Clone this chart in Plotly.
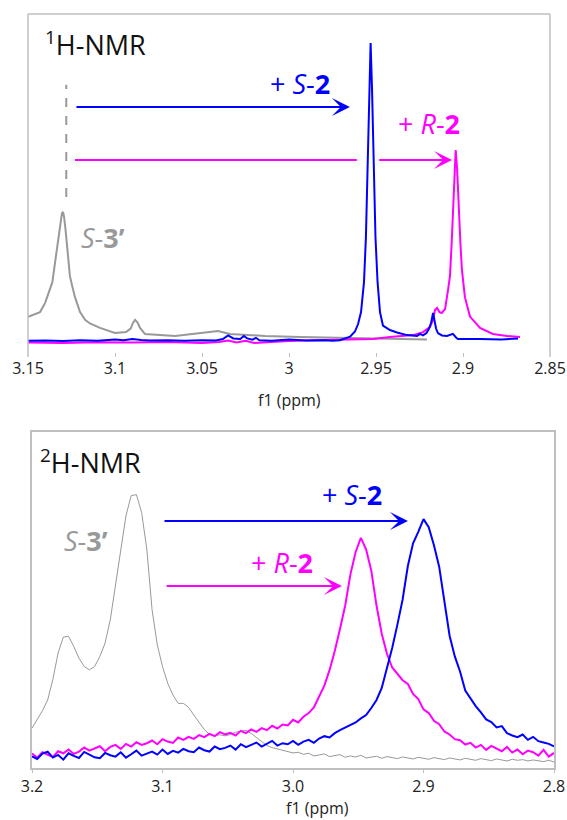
import plotly.graph_objects as go

W, H = 567, 820
FONT = "Open Sans"
BLUE = "#0000FF"
MAGENTA = "#FF00FF"
GRAY = "#999999"
BORDER = "#BFBFBF"

# ---------------- 1H-NMR (top panel) ----------------
top_ticks = [3.15, 3.1, 3.05, 3.0, 2.95, 2.9, 2.85]
top_ticktext = ["3.15", "3.1", "3.05", "3", "2.95", "2.9", "2.85"]

h_s3_ppm = [3.1500, 3.1431, 3.1402, 3.1374, 3.1360, 3.1345, 3.1333, 3.1322, 3.1313, 3.1305,
            3.1299, 3.1293, 3.1285, 3.1276, 3.1267, 3.1259, 3.1247, 3.1230, 3.1201, 3.1172,
            3.1144, 3.1086, 3.1000, 3.0937, 3.0910, 3.0897, 3.0885, 3.0870, 3.0856, 3.0828,
            3.0655, 3.0511, 3.0408, 3.0339, 3.0138, 2.9937, 2.9700, 2.9477, 2.9207]
h_s3_int = [0.084, 0.100, 0.130, 0.174, 0.200, 0.264, 0.310, 0.365, 0.400, 0.430,
            0.435, 0.420, 0.380, 0.320, 0.270, 0.220, 0.190, 0.150, 0.100, 0.074,
            0.062, 0.047, 0.030, 0.033, 0.045, 0.064, 0.074, 0.065, 0.047, 0.027,
            0.020, 0.030, 0.037, 0.027, 0.020, 0.017, 0.014, 0.010, 0.008]

h_s2_ppm = [3.1500, 3.1400, 3.1300, 3.1200, 3.1100, 3.1000, 3.0950, 3.0900, 3.0850, 3.0800,
            3.0700, 3.0600, 3.0500, 3.0420, 3.0380, 3.0350, 3.0320, 3.0280, 3.0260, 3.0240,
            3.0210, 3.0190, 3.0170, 3.0100, 3.0000, 2.9900, 2.9800, 2.9750, 2.9707, 2.9670,
            2.9649, 2.9621, 2.9603, 2.9586, 2.9569, 2.9558, 2.9546, 2.9537, 2.9531, 2.9523,
            2.9514, 2.9503, 2.9491, 2.9477, 2.9460, 2.9420, 2.9379, 2.9322, 2.9264, 2.9247,
            2.9230, 2.9210, 2.9195, 2.9183, 2.9172, 2.9163, 2.9155, 2.9144, 2.9121, 2.9092,
            2.9070, 2.9058, 2.9040, 2.9029, 2.8902, 2.8780, 2.8684]
h_s2_int = [0.004, 0.005, 0.003, 0.006, 0.004, 0.008, 0.006, 0.010, 0.007, 0.005,
            0.006, 0.004, 0.006, 0.005, 0.010, 0.022, 0.012, 0.010, 0.020, 0.012,
            0.008, 0.014, 0.006, 0.004, 0.008, 0.005, 0.006, 0.004, 0.006, 0.012,
            0.018, 0.035, 0.060, 0.100, 0.200, 0.350, 0.600, 0.850, 1.000, 0.850,
            0.600, 0.350, 0.200, 0.100, 0.055, 0.040, 0.032, 0.023, 0.020, 0.027,
            0.022, 0.030, 0.045, 0.065, 0.097, 0.070, 0.045, 0.030, 0.022, 0.020,
            0.024, 0.027, 0.015, 0.010, 0.010, 0.008, 0.012]

h_r2_ppm = [3.1500, 3.1300, 3.1100, 3.0900, 3.0700, 3.0500, 3.0400, 3.0350, 3.0300, 3.0250,
            3.0200, 3.0100, 3.0000, 2.9805, 2.9517, 2.9420, 2.9287, 2.9230, 2.9190, 2.9172,
            2.9161, 2.9149, 2.9135, 2.9122, 2.9103, 2.9086, 2.9075, 2.9066, 2.9057, 2.9049,
            2.9042, 2.9034, 2.9026, 2.9014, 2.9006, 2.8989, 2.8960, 2.8902, 2.8828, 2.8747,
            2.8672]
h_r2_int = [-0.002, -0.003, -0.001, -0.002, 0.000, -0.003, 0.000, 0.005, -0.002, 0.004,
            -0.003, 0.001, 0.003, 0.007, 0.010, 0.017, 0.023, 0.033, 0.050, 0.074,
            0.107, 0.114, 0.100, 0.097, 0.110, 0.174, 0.220, 0.320, 0.450, 0.580,
            0.642, 0.580, 0.450, 0.320, 0.240, 0.150, 0.085, 0.047, 0.027, 0.020,
            0.017]

# ---------------- 2H-NMR (bottom panel) ----------------
bot_ticks = [3.2, 3.1, 3.0, 2.9, 2.8]
bot_ticktext = ["3.2", "3.1", "3.0", "2.9", "2.8"]
d_start_ppm = 3.2
d_step_ppm = -0.004

d_s3_int = [0.116, 0.140, 0.168, 0.200, 0.262, 0.340, 0.388, 0.390, 0.360, 0.325,
            0.300, 0.290, 0.300, 0.330, 0.370, 0.440, 0.540, 0.650, 0.750, 0.810,
            0.813, 0.760, 0.650, 0.470, 0.365, 0.300, 0.250, 0.215, 0.190, 0.190,
            0.178, 0.155, 0.133, 0.112, 0.097, 0.094, 0.096, 0.093, 0.097, 0.104,
            0.106, 0.110, 0.100, 0.088, 0.075, 0.064, 0.058, 0.054, 0.050, 0.046,
            0.042,
            0.044, 0.038, 0.041, 0.033, 0.036, 0.039, 0.031, 0.035, 0.037, 0.029,
            0.033, 0.030, 0.035, 0.027, 0.029, 0.032, 0.026, 0.031, 0.028, 0.025,
            0.030, 0.027, 0.024, 0.029, 0.026, 0.023, 0.028, 0.025, 0.022, 0.027,
            0.024, 0.021, 0.026, 0.023, 0.020, 0.025, 0.022, 0.019, 0.024, 0.021,
            0.018, 0.023, 0.020, 0.022, 0.018, 0.021, 0.019, 0.016, 0.020, 0.015]

d_r2_int = [0.040, 0.028, 0.044, 0.036, 0.030, 0.047, 0.041, 0.052, 0.039, 0.046,
            0.058, 0.049, 0.055, 0.062, 0.047, 0.060, 0.066, 0.054, 0.069, 0.061,
            0.074, 0.066, 0.071, 0.079, 0.068, 0.083, 0.076, 0.072, 0.088, 0.081,
            0.090, 0.084, 0.095, 0.089, 0.099, 0.092, 0.104, 0.097, 0.102, 0.094,
            0.108, 0.101, 0.112, 0.105, 0.116, 0.110, 0.123, 0.115, 0.127, 0.124,
            0.141, 0.133, 0.150, 0.161, 0.178, 0.212, 0.243, 0.289, 0.346, 0.412,
            0.482, 0.575, 0.642, 0.684, 0.650, 0.586, 0.482, 0.398, 0.338, 0.297,
            0.278, 0.259, 0.248, 0.218, 0.203, 0.172, 0.161, 0.138, 0.128, 0.106,
            0.097, 0.083, 0.080, 0.067, 0.072, 0.058, 0.066, 0.051, 0.063, 0.055,
            0.047, 0.060, 0.043, 0.052, 0.038, 0.049, 0.044, 0.034, 0.051, 0.031,
            0.042]

d_s2_int = [0.032, 0.024, 0.040, 0.046, 0.028, 0.036, 0.022, 0.041, 0.033, 0.027,
            0.045, 0.038, 0.029, 0.026, 0.042, 0.035, 0.031, 0.044, 0.028, 0.038,
            0.049, 0.034, 0.041, 0.046, 0.037, 0.052, 0.039, 0.048, 0.043, 0.054,
            0.047, 0.044, 0.058, 0.050, 0.046, 0.061, 0.053, 0.057, 0.064, 0.052,
            0.068, 0.059, 0.066, 0.073, 0.061, 0.070, 0.078, 0.064, 0.071, 0.068,
            0.078, 0.066, 0.076, 0.081, 0.072, 0.085, 0.092, 0.088, 0.101, 0.110,
            0.117, 0.126, 0.133, 0.145, 0.155, 0.176, 0.200, 0.236, 0.292, 0.355,
            0.425, 0.500, 0.600, 0.668, 0.702, 0.740, 0.716, 0.662, 0.598, 0.495,
            0.392, 0.330, 0.285, 0.228, 0.203, 0.182, 0.163, 0.142, 0.134, 0.118,
            0.122, 0.101, 0.094, 0.089, 0.097, 0.081, 0.090, 0.077, 0.073, 0.069,
            0.062]

# ---------------- annotation anchors (data units) ----------------
top_s2_arrow = dict(x0=3.123, x1=2.965, y=0.786)
top_r2_line = dict(x0=3.123, x1=2.961, y=0.609)
top_r2_arrow = dict(x0=2.949, x1=2.9063, y=0.609)
top_dash = dict(x=3.128, y0=0.485, y1=0.86)
bot_s2_arrow = dict(x0=3.0996, x1=2.9119, y=0.734)
bot_r2_arrow = dict(x0=3.098, x1=2.9625, y=0.540)

fig = go.Figure()

fig.add_trace(go.Scatter(x=h_s3_ppm, y=h_s3_int, mode="lines",
                         line=dict(color=GRAY, width=2), xaxis="x", yaxis="y"))
fig.add_trace(go.Scatter(x=h_r2_ppm, y=h_r2_int, mode="lines",
                         line=dict(color=MAGENTA, width=2), xaxis="x", yaxis="y"))
fig.add_trace(go.Scatter(x=h_s2_ppm, y=h_s2_int, mode="lines",
                         line=dict(color=BLUE, width=2), xaxis="x", yaxis="y"))

fig.add_trace(go.Scatter(x0=d_start_ppm, dx=d_step_ppm, y=d_s3_int, mode="lines",
                         line=dict(color=GRAY, width=1), xaxis="x2", yaxis="y2"))
fig.add_trace(go.Scatter(x0=d_start_ppm, dx=d_step_ppm, y=d_r2_int, mode="lines",
                         line=dict(color=MAGENTA, width=2), xaxis="x2", yaxis="y2"))
fig.add_trace(go.Scatter(x0=d_start_ppm, dx=d_step_ppm, y=d_s2_int, mode="lines",
                         line=dict(color=BLUE, width=2), xaxis="x2", yaxis="y2"))

shapes = []
# top panel frame (left, top, right)
for (a, b, c, d) in [(0, 0, 0, 1), (0, 1, 1, 1), (1, 0, 1, 1)]:
    shapes.append(dict(type="line", xref="x domain", yref="y domain",
                       x0=a, y0=b, x1=c, y1=d, line=dict(color=BORDER, width=1.5)))
shapes.append(dict(type="line", xref="x", yref="y",
                   x0=top_dash["x"], x1=top_dash["x"], y0=top_dash["y0"], y1=top_dash["y1"],
                   line=dict(color=GRAY, width=2, dash="dash")))
shapes.append(dict(type="line", xref="x", yref="y",
                   x0=top_r2_line["x0"], x1=top_r2_line["x1"],
                   y0=top_r2_line["y"], y1=top_r2_line["y"],
                   line=dict(color=MAGENTA, width=2)))

annotations = []


def arrow(xref, yref, spec, color):
    return dict(xref=xref, yref=yref, axref=xref, ayref=yref,
                x=spec["x1"], y=spec["y"], ax=spec["x0"], ay=spec["y"],
                text="", showarrow=True, arrowhead=3, arrowsize=1.5,
                arrowwidth=2, arrowcolor=color, standoff=0)


def label(xref, yref, x, y, text, color, size=27):
    return dict(xref=xref, yref=yref, x=x, y=y, text=text, showarrow=False,
                font=dict(family=FONT, size=size, color=color),
                xanchor="center", yanchor="middle")


annotations.append(arrow("x", "y", top_s2_arrow, BLUE))
annotations.append(arrow("x", "y", top_r2_arrow, MAGENTA))
annotations.append(arrow("x2", "y2", bot_s2_arrow, BLUE))
annotations.append(arrow("x2", "y2", bot_r2_arrow, MAGENTA))

annotations.append(label("x", "y", 2.9937, 0.863, "+ <i>S</i>-<b>2</b>", BLUE))
annotations.append(label("x", "y", 2.9195, 0.732, "+ <i>R</i>-<b>2</b>", MAGENTA))
annotations.append(label("x", "y", 3.1069, 0.351, "<i>S</i>-<b>3’</b>", GRAY))
annotations.append(label("x2", "y2", 2.955, 0.812, "+ <i>S</i>-<b>2</b>", BLUE))
annotations.append(label("x2", "y2", 3.0084, 0.609, "+ <i>R</i>-<b>2</b>", MAGENTA))
annotations.append(label("x2", "y2", 3.159, 0.675, "<i>S</i>-<b>3’</b>", GRAY))

annotations.append(dict(xref="paper", yref="paper", x=43 / W, y=1 - 43 / H,
                        text="<sup>1</sup>H-NMR", showarrow=False, xanchor="left",
                        yanchor="middle", font=dict(family=FONT, size=27, color="#111111")))
annotations.append(dict(xref="paper", yref="paper", x=38 / W, y=1 - 462 / H,
                        text="<sup>2</sup>H-NMR", showarrow=False, xanchor="left",
                        yanchor="middle", font=dict(family=FONT, size=27, color="#111111")))
annotations.append(dict(xref="paper", yref="paper", x=289 / W, y=1 - 400 / H,
                        text="f1 (ppm)", showarrow=False, xanchor="center",
                        yanchor="middle", font=dict(family=FONT, size=16, color="#222222")))
annotations.append(dict(xref="paper", yref="paper", x=317 / W, y=0,
                        text="f1 (ppm)", showarrow=False, xanchor="center",
                        yanchor="bottom", borderpad=0,
                        font=dict(family=FONT, size=16, color="#222222")))

tickfont = dict(family=FONT, size=16, color="#222222")

fig.update_layout(
    width=W, height=H, autosize=False,
    margin=dict(l=0, r=0, t=0, b=0, pad=0),
    paper_bgcolor="white", plot_bgcolor="white",
    showlegend=False,
    shapes=shapes, annotations=annotations,
    xaxis=dict(domain=[28 / W, 550 / W], anchor="y", range=[3.15, 2.85],
               tickmode="array", tickvals=top_ticks, ticktext=top_ticktext,
               ticks="inside", ticklen=4, tickwidth=1, tickcolor=BORDER,
               showline=False, showgrid=False, zeroline=False, automargin=False,
               tickfont=tickfont),
    yaxis=dict(domain=[1 - 357 / H, 1 - 14 / H], anchor="x", range=[-0.0502, 1.097],
               visible=False, automargin=False),
    xaxis2=dict(domain=[32 / W, 554 / W], anchor="y2", range=[3.2, 2.8],
                tickmode="array", tickvals=bot_ticks, ticktext=bot_ticktext,
                ticks="outside", ticklen=3, tickwidth=1, tickcolor=BORDER,
                showline=True, linecolor=BORDER, linewidth=1.5, mirror=True,
                showgrid=False, zeroline=False, automargin=False,
                tickfont=tickfont),
    yaxis2=dict(domain=[1 - 768 / H, 1 - 432 / H], anchor="x2", range=[-0.003, 1.0],
                showline=True, linecolor=BORDER, linewidth=1.5, mirror=True,
                showticklabels=False, ticks="", showgrid=False, zeroline=False,
                automargin=False),
)

fig.write_html("out.html",
               config={"displayModeBar": False},
               post_script="document.body.style.margin='0';"
                           "document.body.style.overflow='hidden';")
